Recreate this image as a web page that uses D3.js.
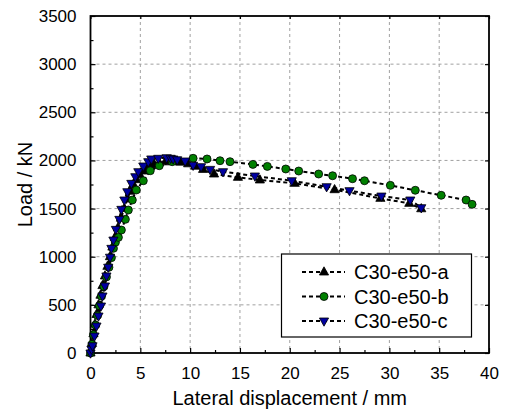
<!DOCTYPE html>
<html><head><meta charset="utf-8">
<script src="https://cdn.jsdelivr.net/npm/d3@7"></script>
<style>body{margin:0;background:#fff}svg{display:block}text{font-family:"Liberation Sans",Arial,sans-serif}</style>
</head><body>
<script>
const seriesNames = ["C30-e50-a", "C30-e50-b", "C30-e50-c"];
const xTicks = [0,5,10,15,20,25,30,35,40];
const yTicks = [0,500,1000,1500,2000,2500,3000,3500];

const xA = [0,0.15,0.3,0.45,0.6,0.8,1.0,1.2,1.45,1.7,1.95,2.2,2.45,2.75,3.05,3.4,3.7,4.0,4.3,4.6,4.95,5.3,5.6,6.0,6.4,6.9,7.5,8.3,9.0,9.8,10.5,11.3,12.4,14.8,17.0,20.5,24.5,29.1,32.0,33.2];
const yA = [0,100,200,300,400,500,600,700,800,900,1000,1100,1200,1300,1400,1500,1600,1680,1750,1800,1850,1890,1915,1940,1960,1975,1985,1990,1982,1965,1940,1907,1859,1824,1797,1762,1696,1606,1554,1498];

const xB = [0,0.15,0.3,0.5,0.7,0.9,1.1,1.35,1.6,1.85,2.1,2.3,2.5,2.8,3.1,3.5,3.8,4.2,4.6,5.3,6.0,6.9,8.2,10.3,11.7,13.0,14.0,16.3,17.75,19.6,20.9,22.9,24.3,26.3,27.5,30.1,32.6,35.2,37.7,38.3];
const yB = [0,90,190,290,390,490,590,690,790,890,990,1087,1150,1201,1277,1388,1485,1589,1693,1789,1893,1945,1987,2022,2015,1997,1987,1959,1938,1911,1890,1859,1841,1810,1789,1741,1690,1638,1589,1544];

const xC = [0,0.1,0.2,0.4,0.6,0.8,1.05,1.2,1.45,1.6,1.78,1.96,2.1,2.3,2.55,2.9,3.1,3.4,3.7,4.1,4.5,4.8,5.3,5.8,6.1,6.8,7.65,8.05,8.3,8.7,9.5,10.3,11.1,12.0,13.3,16.5,20.2,23.7,26.0,29.2,32.1,33.2];
const yC = [0,40,75,176,280,384,488,592,696,800,891,995,1087,1173,1284,1388,1492,1589,1675,1762,1831,1883,1942,1987,2015,2022,2028,2022,2015,2007,1994,1950,1935,1907,1883,1838,1789,1727,1686,1630,1589,1509];

const W = 508, H = 416;
const L = 90.5, R = 489, T = 16, B = 353;
const svg = d3.select("body").append("svg").attr("width", W).attr("height", H);
const x = d3.scaleLinear().domain([0,40]).range([L,R]);
const y = d3.scaleLinear().domain([0,3500]).range([B,T]);

// grid
const g = svg.append("g");
g.selectAll(".gx").data(xTicks.slice(1,-1)).join("line")
  .attr("x1", d=>x(d)).attr("x2", d=>x(d)).attr("y1", T).attr("y2", B)
  .attr("stroke", "#a0a0a0").attr("stroke-width", 1).attr("stroke-dasharray", "3,3");
g.selectAll(".gy").data(yTicks.slice(1,-1)).join("line")
  .attr("y1", d=>y(d)).attr("y2", d=>y(d)).attr("x1", L).attr("x2", R)
  .attr("stroke", "#a0a0a0").attr("stroke-width", 1).attr("stroke-dasharray", "3,3");

// axes
const xMinor = d3.range(2.5, 40, 5);
const yMinor = d3.range(250, 3500, 500);
function styleAxis(sel){ sel.select(".domain").remove(); sel.selectAll("line").attr("stroke","#000").attr("stroke-width",1.2); sel.selectAll("text").attr("font-size","17px").attr("fill","#000"); }

svg.append("g").attr("transform",`translate(0,${B})`)
  .call(d3.axisBottom(x).tickValues(xTicks).tickFormat(d3.format("d")).tickSizeInner(-5).tickSizeOuter(0).tickPadding(14))
  .call(styleAxis);
svg.append("g").attr("transform",`translate(0,${B})`)
  .call(d3.axisBottom(x).tickValues(xMinor).tickFormat("").tickSizeInner(-3).tickSizeOuter(0)).call(styleAxis);
svg.append("g").attr("transform",`translate(${L},0)`)
  .call(d3.axisLeft(y).tickValues(yTicks).tickFormat(d3.format("d")).tickSizeInner(-5).tickSizeOuter(0).tickPadding(14))
  .call(styleAxis);
svg.append("g").attr("transform",`translate(${L},0)`)
  .call(d3.axisLeft(y).tickValues(yMinor).tickFormat("").tickSizeInner(-3).tickSizeOuter(0)).call(styleAxis);
svg.append("g").attr("transform",`translate(0,${T})`)
  .call(d3.axisTop(x).tickValues(xTicks).tickFormat("").tickSizeInner(-3).tickSizeOuter(0)).call(styleAxis);
svg.append("g").attr("transform",`translate(${R},0)`)
  .call(d3.axisRight(y).tickValues(yTicks).tickFormat("").tickSizeInner(-4).tickSizeOuter(0)).call(styleAxis);

svg.append("rect").attr("x",L).attr("y",T).attr("width",R-L).attr("height",B-T)
  .attr("fill","none").attr("stroke","#000").attr("stroke-width",1.8);

// titles
svg.append("text").attr("x",(L+R)/2).attr("y",405).attr("text-anchor","middle").attr("font-size","20px").text("Lateral displacement / mm");
svg.append("text").attr("transform",`translate(32,${(T+B)/2}) rotate(-90)`).attr("text-anchor","middle").attr("font-size","20px").text("Load / kN");

// series
const series = [
  {name: seriesNames[0], xs: xA, ys: yA, fill: "#000000", shape: "up"},
  {name: seriesNames[1], xs: xB, ys: yB, fill: "#008000", shape: "circle"},
  {name: seriesNames[2], xs: xC, ys: yC, fill: "#0000a0", shape: "down"}
];
const triUp = "M0,-5.2L4.6,3L-4.6,3Z";
const triDown = "M0,5.2L4.6,-3L-4.6,-3Z";
function drawMarker(sel, s){
  if (s.shape === "circle") sel.append("circle").attr("r",4).attr("fill",s.fill).attr("stroke","#000").attr("stroke-width",0.8);
  else sel.append("path").attr("d", s.shape==="up"?triUp:triDown).attr("fill",s.fill).attr("stroke","#000").attr("stroke-width",0.8);
}
const line = d3.line().x(d=>x(d[0])).y(d=>y(d[1]));
series.forEach(s=>{
  const pts = s.xs.map((v,i)=>[v, s.ys[i]]);
  svg.append("path").datum(pts).attr("d", line).attr("fill","none").attr("stroke","#000").attr("stroke-width",2).attr("stroke-dasharray","4,3");
});
series.forEach(s=>{
  const pts = s.xs.map((v,i)=>[v, s.ys[i]]);
  pts.forEach(p=>{
    const m = svg.append("g").attr("transform",`translate(${x(p[0])},${y(p[1])})`);
    drawMarker(m, s);
  });
});

// legend
const lg = svg.append("g");
lg.append("rect").attr("x",281.5).attr("y",254).attr("width",190).attr("height",83).attr("fill","#fff").attr("stroke","#000").attr("stroke-width",1.2);
series.forEach((s,i)=>{
  const yy = 272 + i*24.5;
  lg.append("line").attr("x1",302).attr("x2",345).attr("y1",yy).attr("y2",yy).attr("stroke","#000").attr("stroke-width",2).attr("stroke-dasharray","4,3");
  drawMarker(lg.append("g").attr("transform",`translate(324,${yy})`), s);
  lg.append("text").attr("x",354).attr("y",yy+7).attr("font-size","20px").text(s.name);
});
</script>
</body></html>
